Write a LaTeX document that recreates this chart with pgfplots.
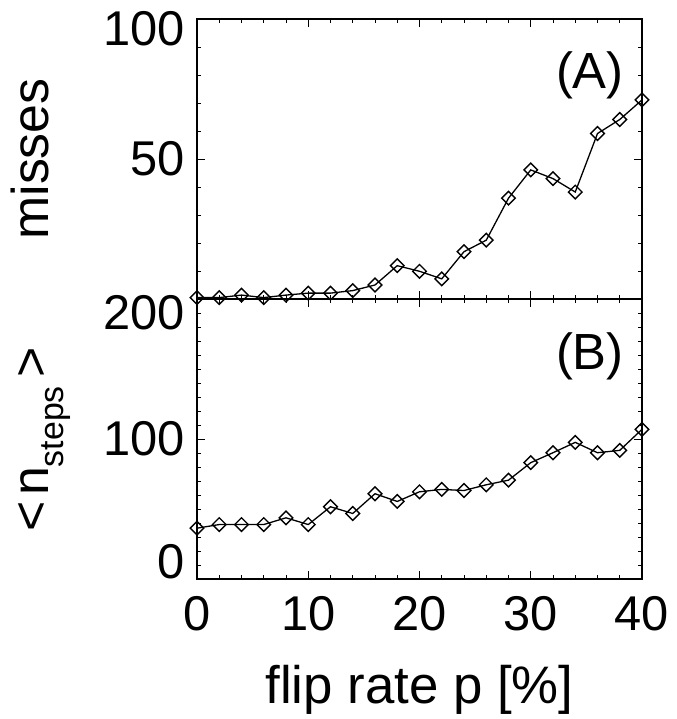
\documentclass[border=0pt]{standalone}
\usepackage{pgfplots}
\pgfplotsset{compat=1.18}
\usepackage{fontspec}
\setmainfont{Liberation Sans}
\newcommand{\sh}[2]{\raisebox{#1}[\height][\depth]{#2}}
\begin{document}
\begin{tikzpicture}
\path[use as bounding box] (-197bp,-420bp) rectangle (480bp,299bp);
\pgfplotsset{
  myax/.style={
    scale only axis, width=445bp, height=280bp,
    xmin=0, xmax=40, xtick={0,10,20,30,40}, minor x tick num=4,
    tick align=inside, major tick length=8bp, minor tick length=4bp,
    axis line style={line width=1.1bp, black},
    every tick/.style={black, line width=0.9bp},
    font=\fontsize{49}{56}\selectfont,
    yticklabel style={xshift=-9bp},
    /pgf/number format/assume math mode=true,
    every axis y label/.style={at={(axis description cs:-0.3326,0.5)}, anchor=base, rotate=90, font=\fontsize{52}{58}\selectfont},
  },
  myplot/.style={black, line width=1.3bp, mark=square, mark size=4.8bp,
    mark options={rotate=45, line width=1.4bp, solid}},
}
\begin{axis}[myax, at={(0,0)}, anchor=south west,
  ymin=0, ymax=100, ytick={0,50,100}, minor y tick num=4,
  yticklabels={{},50,{\sh{-10bp}{100}}},
  xticklabels={},
  ylabel={misses}]
\addplot[myplot] coordinates {
(0,0.5) (2,0.5) (4,1.4) (6,0.5) (8,1.4) (10,2.1) (12,2.1) (14,3.0) (16,5.0)
(18,11.9) (20,9.9) (22,7.2) (24,16.9) (26,21.0) (28,36.0) (30,46.1) (32,43.0)
(34,38.2) (36,59.1) (38,64.1) (40,71.1)};
\node[anchor=center, font=\fontsize{51}{56}\selectfont] at (axis description cs:0.883,0.80) {(A)};
\end{axis}
\begin{axis}[myax, at={(0,-280bp)}, anchor=south west,
  ymin=0, ymax=200, ytick={0,100,200}, minor y tick num=9,
  yticklabels={{\sh{17bp}{0}},100,{\sh{-14bp}{200}}},
  xticklabel style={yshift=-14bp},
  xlabel={flip rate p [\%]},
  every axis x label/.style={at={(axis description cs:0.5,-0.446)}, anchor=base, font=\fontsize{53}{58}\selectfont},
  ylabel={<\kern5bp n\raisebox{-15bp}{\fontsize{34}{34}\selectfont steps}\kern9bp >}]
\addplot[myplot] coordinates {
(0,36.3) (2,38.9) (4,38.9) (6,38.9) (8,43.7) (10,38.9) (12,51.6) (14,46.8)
(16,60.9) (18,55.4) (20,62.3) (22,64.0) (24,63.2) (26,67.3) (28,70.6) (30,83.1)
(32,90.2) (34,97.6) (36,90.2) (38,91.9) (40,106.9)};
\node[anchor=center, font=\fontsize{51}{56}\selectfont] at (axis description cs:0.883,0.796) {(B)};
\end{axis}
\end{tikzpicture}
\end{document}
